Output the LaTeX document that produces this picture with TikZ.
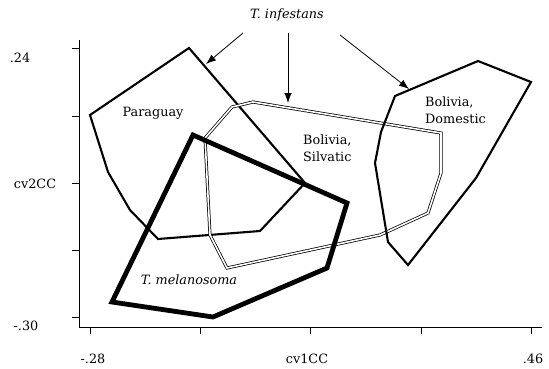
\documentclass[tikz,border=0pt]{standalone}
\usepackage{fontspec}
\setmainfont{DejaVu Serif}
\usepackage{tikz}
\usetikzlibrary{arrows.meta}
\tikzstyle{lbl}=[inner sep=0pt,font=\fontsize{12.8}{17.5}\selectfont]
\tikzstyle{axis} = [draw,line width=1pt,-]
\tikzstyle{hull} = [draw,line width=2.1pt]
\tikzstyle{heavyhull} = [draw,line width=4.8pt]
\tikzstyle{twinhull} = [draw,line width=0.75pt,double=white,double distance=1.6pt]

\begin{document}
\begin{tikzpicture}[x=1pt,y=-1pt]
        \tikzset{pointer/.style = {draw,line width=0.8pt,-{Latex[length=10pt,width=7.5pt]}}}
        \useasboundingbox (0,0) rectangle (549,368);
        % axes and ticks
        \draw[axis] (79,40) -- (79,327) -- (542,327);
        \draw[axis] (72,48) -- (79,48);
        \draw[axis] (72,116) -- (79,116);
        \draw[axis] (72,183) -- (79,183);
        \draw[axis] (72,250) -- (79,250);
        \draw[axis] (72,317) -- (79,317);
        \draw[axis] (90,327) -- (90,334);
        \draw[axis] (200,327) -- (200,334);
        \draw[axis] (310,327) -- (310,334);
        \draw[axis] (421,327) -- (421,334);
        \draw[axis] (531,327) -- (531,334);
        \node[lbl] (ytop) at (20,58) {.24};
        \node[lbl] (ytitle) at (35,184) {cv2CC};
        \node[lbl] (ybot) at (26,326) {-.30};
        \node[lbl] (xleft) at (93,359) {-.28};
        \node[lbl] (xtitle) at (307,359) {cv1CC};
        \node[lbl] (xright) at (533,359) {.46};
        % convex hulls
        \draw[hull] (90,115) -- (189,48) -- (305,183) -- (260,231) -- (158,239)
                -- (130,210) -- (108,172) -- cycle;
        \draw[twinhull] (205,138) -- (232,107) -- (253,102) -- (441,133) -- (441,173)
                -- (428,213) -- (380,235) -- (227,268) -- (210,235) -- cycle;
        \draw[hull] (395,96) -- (478,61) -- (531,82) -- (476,178) -- (408,265)
                -- (388,242) -- (375,163) -- (381,132) -- cycle;
        \draw[heavyhull] (193,135) -- (347,203) -- (327,268) -- (213,317)
                -- (112,302) -- cycle;
        % labels
        \node[lbl] (paraguay) at (153,113) {Paraguay};
        \node[lbl,align=left,anchor=west] (silvatic) at (303,148) {Bolivia,\\Silvatic};
        \node[lbl,align=left,anchor=west] (domestic) at (425,110) {Bolivia,\\Domestic};
        \node[lbl] (melano) at (189,280) {\itshape T. melanosoma};
        \node[lbl] (infestans) at (287,15) {\itshape T. infestans};
        % pointers
        \coordinate (fromA) at (243,33);
        \coordinate (fromB) at (288,33);
        \coordinate (fromC) at (340,35);
        \coordinate (toA) at (206,64);
        \coordinate (toB) at (288,103);
        \coordinate (toC) at (409,89);
        \draw[pointer] (fromA) to (toA);
        \draw[pointer] (fromB) to (toB);
        \draw[pointer] (fromC) to (toC);
      \end{tikzpicture}
\end{document}
